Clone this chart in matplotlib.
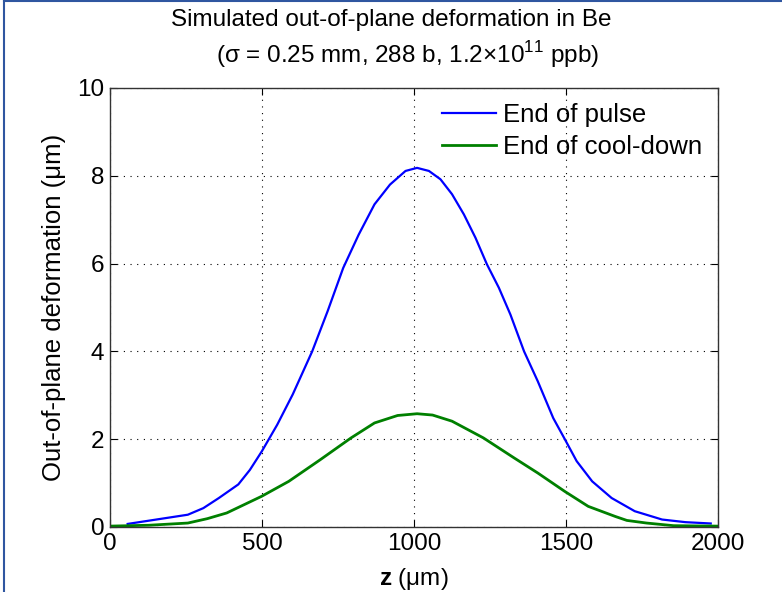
import matplotlib
matplotlib.use('Agg')
import matplotlib.pyplot as plt
from matplotlib.lines import Line2D

plt.rcParams['font.family'] = ['Liberation Sans', 'DejaVu Sans']
plt.rcParams['mathtext.fontset'] = 'custom'
plt.rcParams['mathtext.rm'] = 'Liberation Sans'
plt.rcParams['mathtext.bf'] = 'Liberation Sans:bold'

z_pulse = [58, 256, 307, 358, 422, 460, 499, 550, 601, 665, 716, 767, 818, 870, 921, 972, 1010,
           1049, 1087, 1125, 1164, 1202, 1240, 1279, 1317, 1362, 1407, 1458, 1496,
           1535, 1586, 1650, 1726, 1816, 1893, 1976]
d_pulse = [0.07, 0.28, 0.43, 0.66, 0.97, 1.30, 1.72, 2.33, 3.02, 4.0, 4.92, 5.9, 6.66, 7.35, 7.8, 8.11, 8.18,
           8.11, 7.92, 7.58, 7.12, 6.59, 5.98, 5.45, 4.84, 4.0, 3.32, 2.48, 2.0,
           1.5, 1.04, 0.66, 0.36, 0.17, 0.11, 0.08]

z_cool = [0, 128, 256, 320, 384, 499, 588, 691, 793, 870, 946, 1010, 1061, 1125, 1228, 1330,
          1407, 1496, 1573, 1662, 1700, 1765, 1854, 2000]
d_cool = [0.02, 0.04, 0.09, 0.19, 0.32, 0.70, 1.04, 1.53, 2.03, 2.37, 2.54, 2.58, 2.55, 2.41, 2.03, 1.57,
          1.23, 0.81, 0.47, 0.24, 0.15, 0.09, 0.03, 0.02]

xticks = [0, 500, 1000, 1500, 2000]
yticks = [0, 2, 4, 6, 8, 10]
title1 = 'Simulated out-of-plane deformation in Be'
title2 = r'(σ = 0.25 mm, 288 b, 1.2×10$^{11}$ ppb)'


def plot_graph():
    fig = plt.figure(figsize=(7.82, 5.92), dpi=100)
    ax = fig.add_axes([0.1407, 0.1098, 0.7775, 0.7416])
    ax.plot(z_pulse, d_pulse, color='#0000ff', lw=1.6, label='End of pulse')
    ax.plot(z_cool, d_cool, color='#008000', lw=2.0, label='End of cool-down')
    ax.set_xlim(0, 2000)
    ax.set_ylim(0, 10)
    ax.set_xticks(xticks)
    ax.set_yticks(yticks)
    ax.grid(True, color='black', linestyle=(0, (1, 5)), linewidth=0.8)
    ax.tick_params(direction='in', top=True, right=True, labelsize=17.5, length=5, pad=4)
    for s in ax.spines.values():
        s.set_color('#333333')
        s.set_linewidth(1.0)
    ax.set_xlabel(r'$\mathbf{z}$ (μm)', fontsize=17.5, labelpad=8)
    ax.set_ylabel('Out-of-plane deformation (μm)', fontsize=18.5, labelpad=8)
    fig.text(391 / 782, 1 - 20 / 592, title1, fontsize=17.5, ha='center', va='center')
    fig.text(408 / 782, 1 - 55 / 592, title2, fontsize=17.5, ha='center', va='center')
    ax.legend(loc='upper right', frameon=False, fontsize=18.5, handlelength=2.1,
              handletextpad=0.3, labelspacing=0.3, borderaxespad=0.2)
    # frame of the screenshot
    fig.add_artist(Line2D([0.005, 1], [0.998, 0.998], color='#2f56a0', lw=1.5,
                          transform=fig.transFigure))
    fig.add_artist(Line2D([0.005, 0.005], [0, 0.998], color='#2f56a0', lw=1.5,
                          transform=fig.transFigure))
    fig.savefig('out.png', dpi=100)


if __name__ == '__main__':
    plot_graph()
